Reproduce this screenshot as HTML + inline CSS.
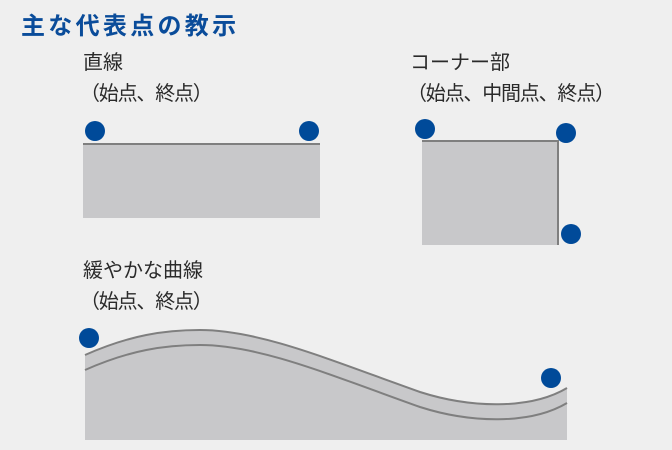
<!DOCTYPE html>
<html><head><meta charset="utf-8"><style>
body{margin:0;width:672px;height:450px;background:#efefef;overflow:hidden;position:relative;font-family:"Liberation Sans","Noto Sans CJK JP",sans-serif}
.t{position:absolute;left:21px;top:6px;font-size:24px;font-weight:bold;color:#0a4c9a;letter-spacing:3.3px;white-space:nowrap}
.l{position:absolute;font-size:20px;line-height:31px;color:#2a2a2a;white-space:nowrap}
.n{letter-spacing:-1.2px;margin-left:-3px}
</style></head><body>
<div class="t">主な代表点の教示</div>
<div class="l" style="left:83px;top:48px">直線<br><span class="n">（始点、終点）</span></div>
<div class="l" style="left:410px;top:48px">コーナー部<br><span class="n">（始点、中間点、終点）</span></div>
<div class="l" style="left:83px;top:256px">緩やかな曲線<br><span class="n">（始点、終点）</span></div>
<svg width="672" height="450" style="position:absolute;left:0;top:0">
<rect x="83" y="144" width="237" height="74" fill="#c8c8ca"/>
<line x1="83" y1="144" x2="320" y2="144" stroke="#7f7f7f" stroke-width="2"/>
<rect x="422" y="141" width="136" height="104" fill="#c8c8ca"/>
<polyline points="422,141 558,141 558,245" fill="none" stroke="#7f7f7f" stroke-width="2"/>
<path d="M85,355 C130,335 165,330 200,330 C260,330 330,360 420,392 C470,408 530,410 567,388 L567,440 L85,440 Z" fill="#c8c8ca"/>
<path d="M85,355 C130,335 165,330 200,330 C260,330 330,360 420,392 C470,408 530,410 567,388" fill="none" stroke="#7f7f7f" stroke-width="2"/>
<path d="M85,370 C130,350 165,345 200,345 C260,345 330,375 420,407 C470,423 530,425 567,403" fill="none" stroke="#7f7f7f" stroke-width="2"/>
<g fill="#004a99">
<circle cx="95" cy="131" r="10"/><circle cx="309" cy="131" r="10"/>
<circle cx="425" cy="129" r="10"/><circle cx="566" cy="133" r="10"/><circle cx="571" cy="234" r="10"/>
<circle cx="89" cy="338" r="10"/><circle cx="551" cy="378" r="10"/>
</g>
</svg>
</body></html>
